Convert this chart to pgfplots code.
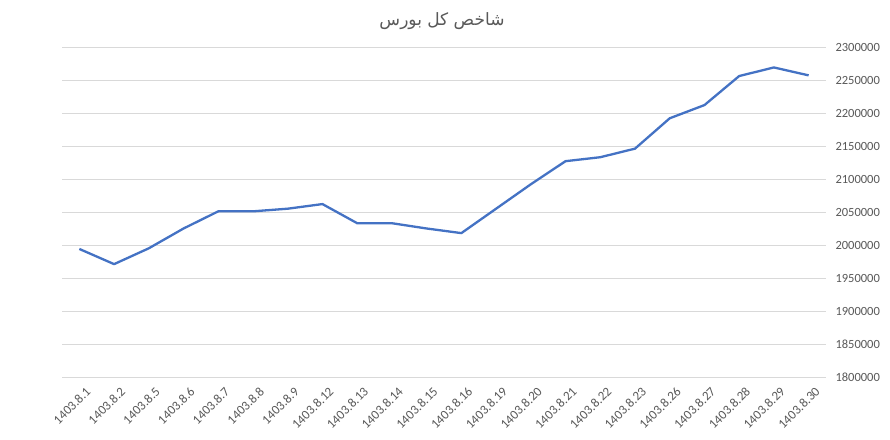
\documentclass[border=0pt]{standalone}
\usepackage{pgfplots}
\pgfplotsset{compat=1.18}
\usepackage{fontspec}
\setmainfont{Carlito}
\newfontfamily\arabicfont[Script=Arabic]{DejaVu Sans}
\TeXXeTstate=1
\definecolor{linecol}{HTML}{4472C4}
\definecolor{txt}{HTML}{595959}
\definecolor{gridc}{HTML}{D9D9D9}
\begin{document}
\begin{tikzpicture}[x=1bp,y=1bp]
\useasboundingbox (0,0) rectangle (890,440);
\fill[white] (0,0) rectangle (890,440);
\begin{axis}[
  at={(62bp,63bp)}, anchor=south west,
  scale only axis, width=764bp, height=330bp,
  xmin=-0.5, xmax=21.5, ymin=1800000, ymax=2300000,
  ytick={1800000,1850000,1900000,1950000,2000000,2050000,2100000,2150000,2200000,2250000,2300000},
  xtick={0,1,2,3,4,5,6,7,8,9,10,11,12,13,14,15,16,17,18,19,20,21},
  xticklabels={1403.8.1,1403.8.2,1403.8.5,1403.8.6,1403.8.7,1403.8.8,1403.8.9,1403.8.12,1403.8.13,1403.8.14,1403.8.15,1403.8.16,1403.8.19,1403.8.20,1403.8.21,1403.8.22,1403.8.23,1403.8.26,1403.8.27,1403.8.28,1403.8.29,1403.8.30},
  axis line style={draw=none},
  tick style={draw=none},
  ymajorgrids, grid style={draw=gridc, line width=0.75bp},
  yticklabel pos=right,
  scaled y ticks=false,
  /pgf/number format/assume math mode=true,
  /pgf/number format/fixed,
  /pgf/number format/1000 sep={},
  yticklabel style={font=\fontsize{12.5bp}{14bp}\selectfont, text=txt, anchor=west, xshift=6bp},
  xticklabel style={font=\fontsize{13bp}{15bp}\selectfont, text=txt, rotate=45, anchor=north east, xshift=1bp, yshift=-7bp},
]
\addplot[color=linecol, line width=2.3bp, line join=round, mark=none] coordinates {
(0,1994000) (1,1971000) (2,1995000) (3,2025000) (4,2051000) (5,2051000)
(6,2055000) (7,2062000) (8,2033000) (9,2033000) (10,2025000) (11,2018000)
(12,2055000) (13,2092000) (14,2127000) (15,2133000) (16,2146000) (17,2192000)
(18,2212000) (19,2256000) (20,2269000) (21,2257000)
};
\end{axis}
\node[text=txt, font=\fontsize{17bp}{20bp}\selectfont\arabicfont] at (442,419) {\beginR شاخص کل بورس\endR};
\end{tikzpicture}
\end{document}
